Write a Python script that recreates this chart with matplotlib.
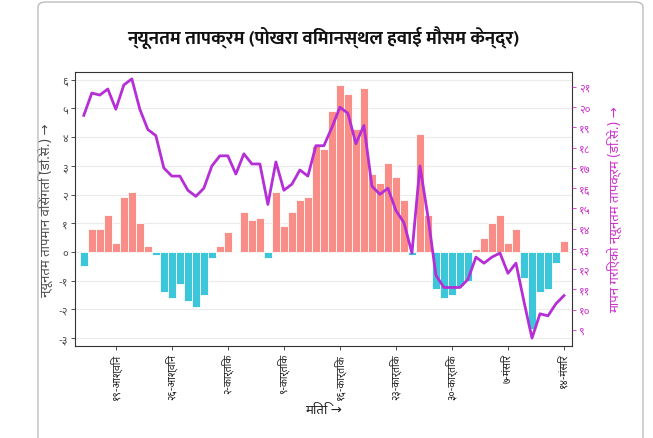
import matplotlib
matplotlib.use("Agg")
import matplotlib.pyplot as plt
from matplotlib import font_manager
from matplotlib.patches import FancyBboxPatch

# ---------------- data ----------------
anomaly = [-0.5, 0.8, 0.8, 1.3, 0.3, 1.9, 2.1, 1.0, 0.2, -0.1,
           -1.4, -1.6, -1.1, -1.7, -1.9, -1.5, -0.2, 0.2, 0.7, 0.0,
           1.4, 1.1, 1.2, -0.2, 2.1, 0.9, 1.4, 1.8, 1.9, 3.7,
           3.6, 4.9, 5.8, 5.5, 4.3, 5.7, 2.7, 2.4, 3.1, 2.6,
           1.8, -0.1, 4.1, 1.3, -1.3, -1.6, -1.5, -1.2, -1.0, 0.1,
           0.5, 1.0, 1.3, 0.3, 0.8, -0.9, -2.7, -1.4, -1.3, -0.4, 0.4]
tmin = [19.6, 20.7, 20.6, 20.9, 19.9, 21.1, 21.4, 19.9, 18.9, 18.6,
        17.0, 16.6, 16.6, 15.9, 15.6, 16.0, 17.1, 17.6, 17.6, 16.7,
        17.7, 17.2, 17.2, 15.2, 17.3, 15.9, 16.2, 16.9, 16.6, 18.1,
        18.1, 19.0, 20.0, 19.7, 18.2, 19.1, 16.1, 15.7, 16.0, 14.9,
        14.3, 12.8, 17.1, 14.6, 11.7, 11.1, 11.1, 11.1, 11.5, 12.6,
        12.3, 12.6, 12.8, 11.8, 12.3, 10.4, 8.6, 9.8, 9.7, 10.3, 10.7]
tick_idx = [4, 11, 18, 25, 32, 39, 46, 53, 60]
tick_labels = ['१९-आश्विन', '२६-आश्विन', '२-कार्तिक', '९-कार्तिक', '१६-कार्तिक',
               '२३-कार्तिक', '३०-कार्तिक', '७-मंसिर', '१४-मंसिर']
left_ticks = [-3, -2, -1, 0, 1, 2, 3, 4, 5, 6]
right_ticks = [9, 10, 11, 12, 13, 14, 15, 16, 17, 18, 19, 20, 21]

title = 'न्यूनतम तापक्रम (पोखरा विमानस्थल हवाई मौसम केन्द्र)'
ylabel_left = 'न्यूनतम तापमान विसंगति (डि.से.) →'
ylabel_right = 'मापन गरिएको न्यूनतम तापक्रम (डि.से.) →'
xlabel = 'मिति →'

# ---------------- font with Devanagari ----------------
prefs = ['Noto Sans Devanagari', 'Mukta', 'Hind', 'Ek Mukta', 'Poppins', 'FreeSans']
ttf = font_manager.fontManager.ttflist
names = {f.name for f in ttf}
deva = next((p for p in prefs if p in names), None)
bold_fam = next((p for p in prefs
                 if any(f.name == p and (f.weight == 'bold' or
                        (isinstance(f.weight, int) and f.weight >= 600)) for f in ttf)), deva)
fams = ([deva] if deva else []) + ['DejaVu Sans']
plt.rcParams['font.family'] = fams

DIG = str.maketrans('0123456789-', '०१२३४५६७८९-')
def dev(n):
    return str(n).translate(DIG)

# ---------------- figure ----------------
W, H = 653, 439
fig = plt.figure(figsize=(W / 100, H / 100), dpi=100)
fig.patch.set_facecolor('white')

frame = FancyBboxPatch((38 / W, -0.05), (643 - 38) / W, (H - 3) / H + 0.05,
                       boxstyle='round,pad=0,rounding_size=0.012',
                       transform=fig.transFigure, facecolor='none',
                       edgecolor='#BDBDBD', linewidth=1.0, zorder=0)
fig.patches.append(frame)

L, R, T, B = 75, 572, 73, 347
ax = fig.add_axes([L / W, 1 - B / H, (R - L) / W, (B - T) / H])
ax.set_facecolor('white')

x = list(range(len(anomaly)))
colors = ['#F98D88' if v >= 0 else '#3CC6DA' for v in anomaly]
ax.bar(x, anomaly, width=0.94, color=colors, edgecolor='white', linewidth=0.6, zorder=2)

ax.set_xlim(-1.1, 61.0)
ax.set_ylim(-3.275, 6.27)
ax.set_yticks(left_ticks)
ax.set_yticklabels([dev(v) for v in left_ticks], fontsize=8, color='#4D4D4D')
ax.set_xticks(tick_idx)
ax.set_xticklabels(tick_labels, rotation=90, fontsize=7.5, color='#222222', va='top', ha='center')
ax.tick_params(axis='both', length=3, color='#333333', width=0.6, pad=2)
ax.grid(axis='y', color='#EBEBEB', linewidth=0.8, zorder=0)
ax.set_axisbelow(True)
for s in ax.spines.values():
    s.set_color('#333333')
    s.set_linewidth(0.8)

ax.set_ylabel(ylabel_left, fontsize=9.5, color='#4D4D4D')
ax.set_xlabel(xlabel, fontsize=9.5, color='#222222', labelpad=3)

ax2 = ax.twinx()
ax2.plot(x, tmin, color='#B52ED6', linewidth=2.0, zorder=3, solid_joinstyle='round')
ax2.set_ylim(8.21, 21.74)
ax2.set_yticks(right_ticks)
ax2.set_yticklabels([dev(v) for v in right_ticks], fontsize=8, color='#CC33CC')
ax2.tick_params(axis='y', length=3, color='#CC33CC', width=0.6, pad=2)
for s in ax2.spines.values():
    s.set_visible(False)
ax2.set_ylabel(ylabel_right, fontsize=9.5, color='#CC33CC')
ax2.yaxis.set_label_coords(1.071, 0.5)
ax.yaxis.set_label_coords(-0.044, 0.5)

fig.text((L + R) / 2 / W, 1 - 38 / H, title, ha='center', va='center',
         fontsize=13.5, fontweight='bold', color='#111111',
         family=([bold_fam] if bold_fam else []) + ['DejaVu Sans'])

fig.savefig('out.png', dpi=100, facecolor='white')
